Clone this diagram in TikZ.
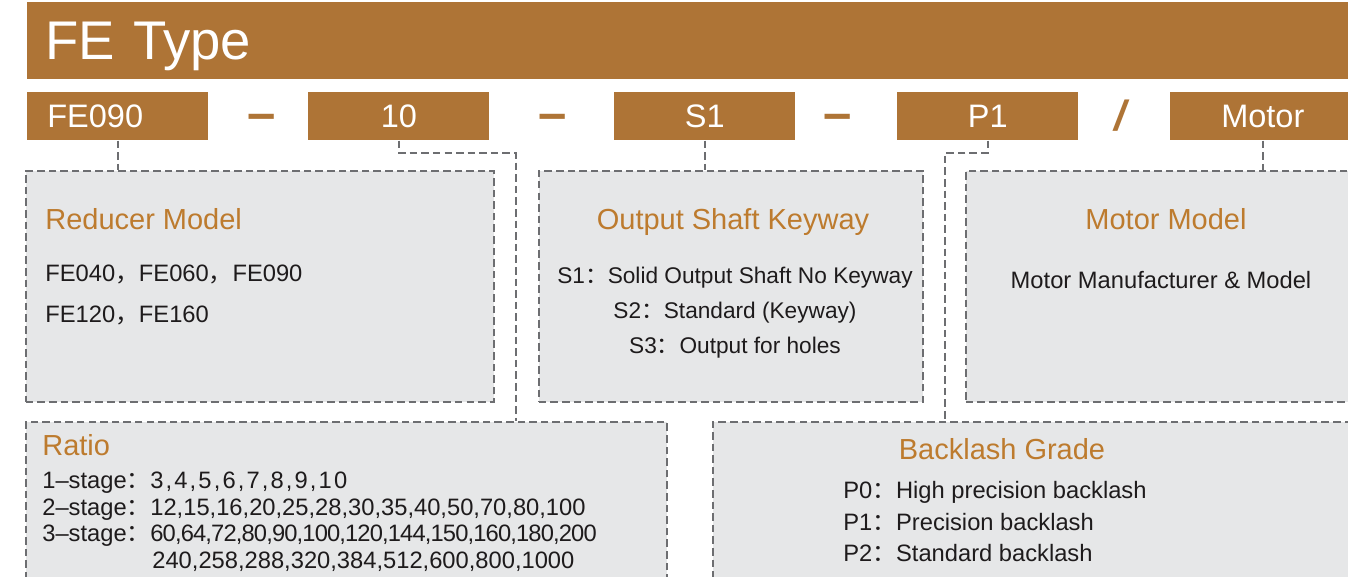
\documentclass[tikz,border=0pt]{standalone}
\usepackage{fontspec}
\setmainfont{Liberation Sans}
\newfontfamily\cjk{Noto Sans CJK SC}
\usepackage{xcolor}
\usepackage{tikz}
\definecolor{febrown}{HTML}{AE7436}
\definecolor{fehead}{HTML}{BD7B2E}
\definecolor{boxfill}{HTML}{E6E7E8}
\definecolor{dashgray}{HTML}{6D6E71}
\definecolor{bodytext}{HTML}{1E1B1C}
\newcommand{\zc}{{\cjk ：}}
\newcommand{\zd}{{\cjk ，}}
\tikzset{
  titlebar/.style={rectangle, fill=febrown, text=white, anchor=north west,
                   font=\fontsize{31}{31}\selectfont, minimum height=1.54cm,
                   text width=25.94cm, inner xsep=0.36cm, inner ysep=0pt,
                   text depth=0pt, align=left},
  codebox/.style={rectangle, fill=febrown, text=white, anchor=north west,
                  font=\fontsize{18.5}{18.5}\selectfont, minimum width=3.62cm,
                  minimum height=0.96cm, inner sep=0pt},
  joiner/.style={text=febrown, inner sep=0pt,
                 font=\fontsize{29}{29}\selectfont\bfseries},
  infobox/.style={rectangle, fill=boxfill, draw=dashgray, line width=1pt,
                  dash pattern=on 4.3pt off 2.3pt, anchor=north west,
                  inner sep=0pt},
  head/.style={text=fehead, inner sep=0pt, font=\fontsize{16.5}{16.5}\selectfont},
  body/.style={text=bodytext, inner sep=0pt, font=\fontsize{13.5}{13.5}\selectfont},
  link/.style={draw=dashgray, line width=1pt, dash pattern=on 4.3pt off 2.3pt},
}
\begin{document}
\begin{tikzpicture}[x=0.02cm, y=-0.02cm]
  \clip (0,0) rectangle (1348,577);
  \fill[white] (0,0) rectangle (1348,577);
  %% Header
  \node[titlebar] (title) at (27,2) {FE Type};
  %% Code row
  \node[codebox, text width=2.82cm, inner xsep=0.38cm, align=left] (fe) at (27,92) {FE090};
  \node[codebox] (ten)   at (308,92)  {10};
  \node[codebox] (s1)    at (614,92)  {S1};
  \node[codebox] (p1)    at (897,92)  {P1};
  \node[codebox, minimum width=3.7cm] (motor) at (1170,92) {Motor};
  \node[joiner] (j1) at (262,122) {–};
  \node[joiner] (j2) at (553,122) {–};
  \node[joiner] (j3) at (838,122) {–};
  \node[joiner, font=\fontsize{24}{24}\selectfont\bfseries\itshape] (j4) at (1120,116) {/};
  %% Upper boxes
  \node[infobox, minimum width=9.36cm, minimum height=4.62cm] (reducer)  at (25,170)  {};
  \node[infobox, minimum width=7.68cm, minimum height=4.62cm] (shaft)    at (538,170) {};
  \node[infobox, minimum width=8.0cm,  minimum height=4.62cm] (motorbox) at (965,170) {};
  %% Lower boxes
  \node[infobox, minimum width=12.82cm, minimum height=3.6cm] (ratiobox) at (25,421)  {};
  \node[infobox, minimum width=13.06cm, minimum height=3.6cm] (backlash) at (712,421) {};
  %% Connectors
  \coordinate (tenbend) at (516,153);
  \coordinate (p1bend)  at (945,153);
  \draw[link] (fe.south) -- (fe.south |- reducer.north);
  \draw[link] (ten.south) |- (tenbend) -- (tenbend |- ratiobox.north);
  \draw[link] (s1.south) -- (s1.south |- shaft.north);
  \draw[link] (p1.south) |- (p1bend) -- (p1bend |- backlash.north);
  \draw[link] (motor.south) -- (motor.south |- motorbox.north);
  %% Reducer model
  \node[head, anchor=base west] (rmhead) at (45,230) {Reducer Model};
  \node[body, anchor=base west] (rm1) at (45,281.5) {FE040\zd FE060\zd FE090};
  \node[body, anchor=base west] (rm2) at (45,322.5) {FE120\zd FE160};
  %% Output shaft
  \node[head, anchor=base] (oshead) at (733,230) {Output Shaft Keyway};
  \node[body, anchor=base, font=\fontsize{12.9}{12.9}\selectfont] (os1) at (735,283.5) {S1\zc Solid Output Shaft No Keyway};
  \node[body, anchor=base, font=\fontsize{12.9}{12.9}\selectfont] (os2) at (735,318.5) {S2\zc Standard (Keyway)};
  \node[body, anchor=base, font=\fontsize{12.9}{12.9}\selectfont] (os3) at (735,353.5) {S3\zc Output for holes};
  %% Motor model
  \node[head, anchor=base] (mmhead) at (1166,230) {Motor Model};
  \node[body, anchor=base] (mm1) at (1161,288.5) {Motor Manufacturer \& Model};
  %% Ratio
  \node[head, anchor=base west] (rthead) at (42,455) {Ratio};
  \node[body, anchor=base west] (rtl1) at (42,488.5) {1–stage\zc};
  \node[body, anchor=base west] (rtl2) at (42,515.5) {2–stage\zc};
  \node[body, anchor=base west] (rtl3) at (42,541.5) {3–stage\zc};
  \node[body, anchor=base west] (rtv1) at (150,488.5) {\addfontfeatures{LetterSpace=9}3,4,5,6,7,8,9,10};
  \node[body, anchor=base west] (rtv2) at (150,515.5) {12,15,16,20,25,28,30,35,40,50,70,80,100};
  \node[body, anchor=base west] (rtv3) at (150,541.5) {\addfontfeatures{LetterSpace=-3.6}60,64,72,80,90,100,120,144,150,160,180,200};
  \node[body, anchor=base west] (rtv4) at (152,568.5) {240,258,288,320,384,512,600,800,1000};
  %% Backlash grade
  \node[head, anchor=base] (bghead) at (1002,459) {Backlash Grade};
  \node[body, anchor=base west] (bg0) at (843,498.5) {P0\zc High precision backlash};
  \node[body, anchor=base west] (bg1) at (843,530.5) {P1\zc Precision backlash};
  \node[body, anchor=base west] (bg2) at (843,561.5) {P2\zc Standard backlash};
\end{tikzpicture}
\end{document}
